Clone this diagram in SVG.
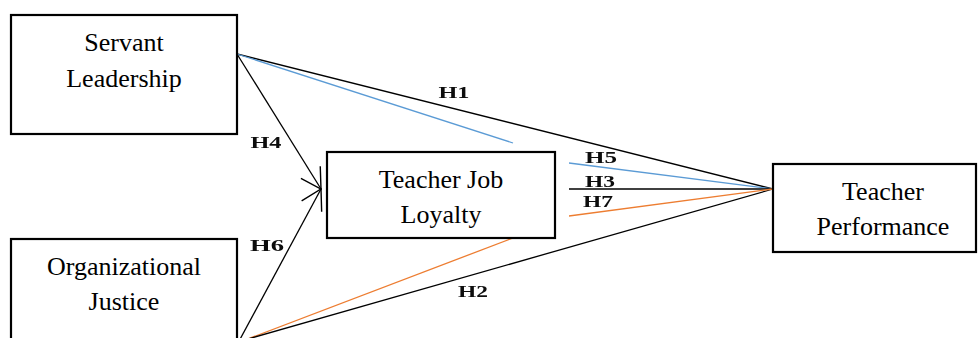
<svg xmlns="http://www.w3.org/2000/svg" width="978" height="338" viewBox="0 0 978 338">
  <style>
    .box { fill: #ffffff; stroke: #000000; stroke-width: 2.2; }
    .name { font-family: "Liberation Serif", "Times New Roman", serif; font-size: 26px; fill: #000000; text-anchor: middle; }
    .hyp { font-family: "Liberation Serif", "Times New Roman", serif; font-size: 16px; font-weight: bold; fill: #111111; text-anchor: middle; }
    .link { fill: none; stroke-width: 1.3; }
    .black { stroke: #000000; }
    .blue { stroke: #5b9bd5; }
    .orange { stroke: #ed7d31; }
  </style>
  <defs>
    <marker id="open-arrow" markerUnits="userSpaceOnUse" markerWidth="24" markerHeight="26" viewBox="-20 -12 22 24" refX="0" refY="0" orient="auto">
      <path d="M-18.2,-10.5 L0,0 L-18.2,10.5" fill="none" stroke="#000000" stroke-width="1.3"/>
    </marker>
    <filter id="soft" x="-10%" y="-20%" width="120%" height="140%">
      <feGaussianBlur stdDeviation="0.45"/>
    </filter>
  </defs>

  <!-- connectors -->
  <g id="connectors">
    <!-- Servant Leadership -->
    <line class="link black" x1="237" y1="54" x2="773" y2="189"/>
    <line class="link blue" x1="237" y1="54" x2="513" y2="143"/>
    <line class="link black" x1="237" y1="54" x2="321" y2="189" marker-end="url(#open-arrow)"/>
    <!-- Organizational Justice -->
    <line class="link black" x1="238" y1="343" x2="321" y2="189" marker-end="url(#open-arrow)"/>
    <line class="link orange" x1="245" y1="340" x2="513" y2="238"/>
    <line class="link black" x1="241" y1="341" x2="773" y2="189"/>
    <!-- Teacher Job Loyalty to Teacher Performance -->
    <line class="link blue" x1="569" y1="163" x2="773" y2="189"/>
    <line class="link black" x1="569" y1="189" x2="773" y2="189"/>
    <line class="link orange" x1="569" y1="216" x2="773" y2="189"/>
  </g>

  <!-- hypothesis labels -->
  <g id="labels" filter="url(#soft)">
    <text class="hyp" x="454" y="98" textLength="31" lengthAdjust="spacingAndGlyphs">H1</text>
    <text class="hyp" x="266" y="148" textLength="31" lengthAdjust="spacingAndGlyphs">H4</text>
    <text class="hyp" x="267" y="251" textLength="34" lengthAdjust="spacingAndGlyphs">H6</text>
    <text class="hyp" x="473" y="297" textLength="30" lengthAdjust="spacingAndGlyphs">H2</text>
    <text class="hyp" x="601" y="163" textLength="32" lengthAdjust="spacingAndGlyphs">H5</text>
    <text class="hyp" x="600" y="187" textLength="30" lengthAdjust="spacingAndGlyphs">H3</text>
    <text class="hyp" x="598" y="207" textLength="30" lengthAdjust="spacingAndGlyphs">H7</text>
  </g>

  <!-- nodes -->
  <g id="servant-leadership">
    <rect class="box" x="11" y="15" width="226" height="119"/>
    <text class="name" x="124" y="51">Servant</text>
    <text class="name" x="124" y="87">Leadership</text>
  </g>

  <g id="organizational-justice">
    <rect class="box" x="11" y="239" width="226" height="119"/>
    <text class="name" x="124" y="275">Organizational</text>
    <text class="name" x="124" y="310">Justice</text>
  </g>

  <g id="teacher-job-loyalty">
    <rect class="box" x="327" y="152" width="228" height="86"/>
    <text class="name" x="441" y="188">Teacher Job</text>
    <text class="name" x="441" y="223">Loyalty</text>
  </g>

  <g id="teacher-performance">
    <rect class="box" x="773" y="164" width="203" height="88"/>
    <text class="name" x="883" y="200">Teacher</text>
    <text class="name" x="883" y="235">Performance</text>
  </g>
</svg>
